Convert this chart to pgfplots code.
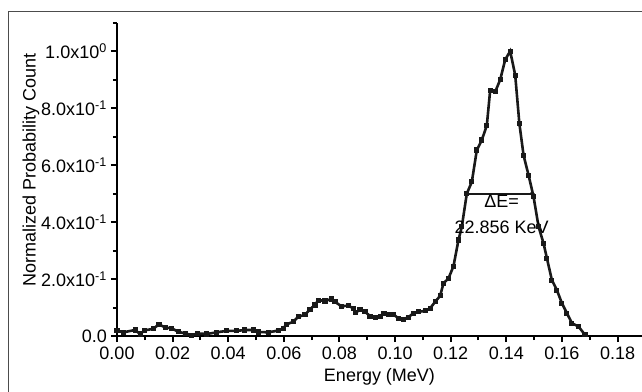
\documentclass[border=0pt]{standalone}
\usepackage{pgfplots}
\pgfplotsset{compat=1.18}
\usepackage{fontspec}
\setmainfont{Liberation Sans}
\newcommand{\fs}{\fontsize{18}{21.6}\selectfont}
\begin{document}
\begin{tikzpicture}[x=1pt,y=1pt,font=\fs]
\useasboundingbox (0,0) rectangle (642,391);
\draw[line width=1pt, color=black!70] (8,379) -- (8,-20);
\draw[line width=1pt, color=black!70] (8,379) -- (700,379);
\begin{axis}[
  at={(117pt,55pt)}, anchor=south west,
  scale only axis, width=525pt, height=313.3pt,
  xmin=0, xmax=0.1888, ymin=0, ymax=1.1,
  axis x line=bottom, axis y line=left,
  axis line style={-, line width=2pt},
  every tick/.style={black, line width=2pt},
  tick align=outside,
  major tick length=6pt, minor tick length=4pt,
  xtick={0,0.02,0.04,0.06,0.08,0.10,0.12,0.14,0.16,0.18},
  xticklabels={0.00,0.02,0.04,0.06,0.08,0.10,0.12,0.14,0.16,0.18},
  ytick={0,0.2,0.4,0.6,0.8,1.0},
  yticklabels={0.0,2.0x10\textsuperscript{-1},4.0x10\textsuperscript{-1},6.0x10\textsuperscript{-1},8.0x10\textsuperscript{-1},1.0x10\textsuperscript{0}},
  extra y ticks={1.1}, extra y tick labels={},
  extra y tick style={major tick length=4pt},
  minor x tick num=1, minor y tick num=1,
  /pgf/number format/assume math mode=true,
  tick label style={font=\fs, inner sep=0pt},
  xticklabel style={yshift=-4.5pt},
  yticklabel style={xshift=-4pt},
  xlabel={Energy (MeV)},
  ylabel={Normalized Probability Count},
  label style={font=\fs, inner sep=0pt},
  xlabel style={at={(axis description cs:0.5,-0.146)}, anchor=base},
  ylabel style={at={(axis description cs:-0.155,0.531)}, anchor=base, rotate=0},
  clip=false,
]
\addplot[color=black!90, line width=2.6pt, mark=square*, mark size=1.25pt, mark options={solid}] coordinates {
(0.0000,0.019) (0.0023,0.013) (0.0065,0.021) (0.0083,0.007) (0.0100,0.020)
(0.0130,0.025) (0.0151,0.041) (0.0173,0.030) (0.0197,0.027) (0.0220,0.015)
(0.0245,0.009) (0.0269,0.003) (0.0291,0.009) (0.0323,0.007) (0.0359,0.013)
(0.0395,0.018) (0.0430,0.018) (0.0460,0.021) (0.0490,0.021) (0.0508,0.014)
(0.0544,0.013) (0.0580,0.019) (0.0598,0.027) (0.0610,0.041) (0.0634,0.050)
(0.0652,0.068) (0.0676,0.074) (0.0694,0.094) (0.0712,0.109) (0.0724,0.126)
(0.0748,0.123) (0.0772,0.130) (0.0784,0.120) (0.0806,0.105) (0.0832,0.106)
(0.0850,0.097) (0.0859,0.083) (0.0874,0.092) (0.0892,0.085) (0.0910,0.070)
(0.0928,0.066) (0.0946,0.070) (0.0960,0.080) (0.0976,0.074) (0.0994,0.076)
(0.1012,0.062) (0.1030,0.059) (0.1048,0.066) (0.1066,0.080) (0.1084,0.085)
(0.1108,0.088) (0.1126,0.097) (0.1144,0.120) (0.1162,0.141) (0.1174,0.185)
(0.1192,0.202) (0.1210,0.245) (0.1228,0.337) (0.1240,0.384) (0.1258,0.500)
(0.1276,0.541) (0.1294,0.653) (0.1312,0.688) (0.1330,0.740) (0.1342,0.863)
(0.1360,0.857) (0.1378,0.900) (0.1396,0.970) (0.1414,1.000) (0.1432,0.916)
(0.1447,0.746) (0.1462,0.635) (0.1480,0.565) (0.1498,0.489) (0.1516,0.384)
(0.1534,0.325) (0.1546,0.273) (0.1564,0.196) (0.1582,0.161) (0.1600,0.115)
(0.1618,0.080) (0.1636,0.045) (0.1660,0.033) (0.1683,0.004)
};
\addplot[color=black!90, line width=2pt, mark=*, mark size=1.2pt] coordinates {(0.1258,0.5) (0.1493,0.5)};
\node[anchor=base, inner sep=0pt] at (axis cs:0.1383,0.4516) {ΔE=};
\node[anchor=base, inner sep=0pt] at (axis cs:0.1383,0.3600) {22.856 KeV};
\end{axis}
\end{tikzpicture}
\end{document}
